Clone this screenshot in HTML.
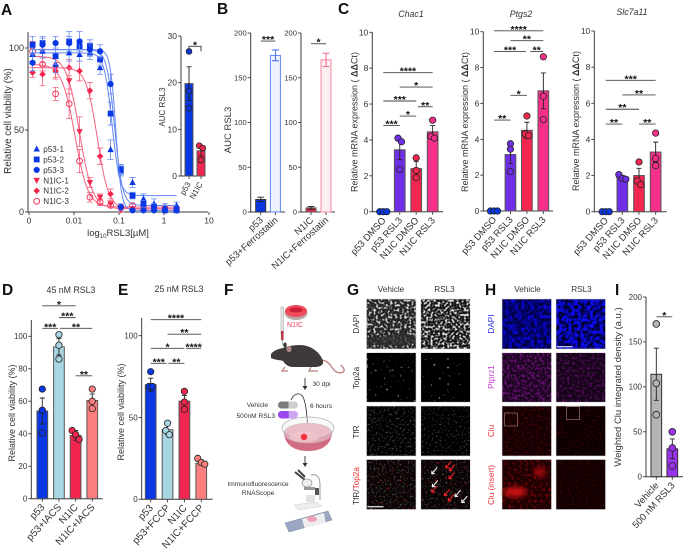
<!DOCTYPE html>
<html lang="en"><head><meta charset="utf-8"><title>RSL3 figure</title>
<style>
html,body{margin:0;padding:0;background:#fff}
svg{display:block;font-family:"Liberation Sans",sans-serif}
text{fill:#333}
.pl{font-size:15.5px;font-weight:bold;fill:#111}
.im{font-size:8.2px;fill:#333}
.fl{font-size:6.6px;fill:#333}
</style></head><body>
<svg id="fig" xmlns="http://www.w3.org/2000/svg" width="683" height="549" viewBox="0 0 683 549">
<defs>
<filter id="f-dapi" x="0" y="0" width="100%" height="100%" color-interpolation-filters="sRGB"><feTurbulence type="fractalNoise" baseFrequency="0.42" numOctaves="1" seed="3"/><feColorMatrix values="0 0 0 0 .85 0 0 0 0 .85 0 0 0 0 .85 4.500 0 0 0 -2.15"/><feGaussianBlur stdDeviation=".35"/></filter>
<filter id="f-dapi2" x="0" y="0" width="100%" height="100%" color-interpolation-filters="sRGB"><feTurbulence type="fractalNoise" baseFrequency="0.42" numOctaves="1" seed="11"/><feColorMatrix values="0 0 0 0 .9 0 0 0 0 .9 0 0 0 0 .9 4.500 0 0 0 -2.05"/><feGaussianBlur stdDeviation=".35"/></filter>
<filter id="f-top" x="0" y="0" width="100%" height="100%" color-interpolation-filters="sRGB"><feTurbulence type="fractalNoise" baseFrequency="0.36" numOctaves="1" seed="7"/><feColorMatrix values="0 0 0 0 .6 0 0 0 0 .6 0 0 0 0 .6 7 0 0 0 -4.6"/><feGaussianBlur stdDeviation=".35"/></filter>
<filter id="f-top2" x="0" y="0" width="100%" height="100%" color-interpolation-filters="sRGB"><feTurbulence type="fractalNoise" baseFrequency="0.36" numOctaves="1" seed="21"/><feColorMatrix values="0 0 0 0 .55 0 0 0 0 .55 0 0 0 0 .55 7 0 0 0 -4.7"/><feGaussianBlur stdDeviation=".35"/></filter>
<filter id="f-tfr" x="0" y="0" width="100%" height="100%" color-interpolation-filters="sRGB"><feTurbulence type="fractalNoise" baseFrequency="0.5" numOctaves="1" seed="5"/><feColorMatrix values="0 0 0 0 .42 0 0 0 0 .42 0 0 0 0 .42 2.400 0 0 0 -1.25"/><feGaussianBlur stdDeviation=".3"/></filter>
<filter id="f-tfr2" x="0" y="0" width="100%" height="100%" color-interpolation-filters="sRGB"><feTurbulence type="fractalNoise" baseFrequency="0.5" numOctaves="1" seed="15"/><feColorMatrix values="0 0 0 0 .38 0 0 0 0 .38 0 0 0 0 .38 2.400 0 0 0 -1.3"/><feGaussianBlur stdDeviation=".3"/></filter>
<filter id="f-ovr" x="0" y="0" width="100%" height="100%" color-interpolation-filters="sRGB"><feTurbulence type="fractalNoise" baseFrequency="0.4" numOctaves="1" seed="9"/><feColorMatrix values="0 0 0 0 .6 0 0 0 0 .08 0 0 0 0 .12 6 0 0 0 -3.9"/><feGaussianBlur stdDeviation=".35"/></filter>
<filter id="f-blue" x="0" y="0" width="100%" height="100%" color-interpolation-filters="sRGB"><feTurbulence type="fractalNoise" baseFrequency="0.32" numOctaves="1" seed="4"/><feColorMatrix values="0 0 0 0 .03 0 0 0 0 .03 0 0 0 0 .85 4 0 0 0 -1.6"/><feGaussianBlur stdDeviation=".4"/></filter>
<filter id="f-blue2" x="0" y="0" width="100%" height="100%" color-interpolation-filters="sRGB"><feTurbulence type="fractalNoise" baseFrequency="0.32" numOctaves="1" seed="14"/><feColorMatrix values="0 0 0 0 .05 0 0 0 0 .05 0 0 0 0 1 5 0 0 0 -2"/><feGaussianBlur stdDeviation=".4"/></filter>
<filter id="f-mag" x="0" y="0" width="100%" height="100%" color-interpolation-filters="sRGB"><feTurbulence type="fractalNoise" baseFrequency="0.4" numOctaves="1" seed="6"/><feColorMatrix values="0 0 0 0 .5 0 0 0 0 .08 0 0 0 0 .55 2.600 0 0 0 -1.1"/><feGaussianBlur stdDeviation=".35"/></filter>
<filter id="f-mag2" x="0" y="0" width="100%" height="100%" color-interpolation-filters="sRGB"><feTurbulence type="fractalNoise" baseFrequency="0.4" numOctaves="1" seed="16"/><feColorMatrix values="0 0 0 0 .4 0 0 0 0 .06 0 0 0 0 .45 2.600 0 0 0 -1.2"/><feGaussianBlur stdDeviation=".35"/></filter>
<filter id="f-red" x="0" y="0" width="100%" height="100%" color-interpolation-filters="sRGB"><feTurbulence type="fractalNoise" baseFrequency="0.5" numOctaves="1" seed="8"/><feColorMatrix values="0 0 0 0 .5 0 0 0 0 .03 0 0 0 0 .05 2.400 0 0 0 -1.25"/><feGaussianBlur stdDeviation=".3"/></filter>
<filter id="f-red2" x="0" y="0" width="100%" height="100%" color-interpolation-filters="sRGB"><feTurbulence type="fractalNoise" baseFrequency="0.5" numOctaves="1" seed="18"/><feColorMatrix values="0 0 0 0 .42 0 0 0 0 .02 0 0 0 0 .04 2.400 0 0 0 -1.32"/><feGaussianBlur stdDeviation=".3"/></filter>
<filter id="f-red3" x="0" y="0" width="100%" height="100%" color-interpolation-filters="sRGB"><feTurbulence type="fractalNoise" baseFrequency="0.35" numOctaves="1" seed="28"/><feColorMatrix values="0 0 0 0 .6 0 0 0 0 .03 0 0 0 0 .05 2.600 0 0 0 -1.3"/><feGaussianBlur stdDeviation=".35"/></filter>
<filter id="blur3" x="-50%" y="-50%" width="200%" height="200%"><feGaussianBlur stdDeviation="3"/></filter>
</defs>

<!-- panel letters -->
<text class="pl" x="1" y="15">A</text>
<text class="pl" x="217" y="14">B</text>
<text class="pl" x="338" y="14">C</text>
<text class="pl" x="2" y="295">D</text>
<text class="pl" x="118" y="295">E</text>
<text class="pl" x="224" y="295">F</text>
<text class="pl" x="347" y="295">G</text>
<text class="pl" x="485" y="295">H</text>
<text class="pl" x="615" y="295">I</text>

<!-- axis titles -->
<text font-size="9.8" text-anchor="middle" transform="translate(11,121) rotate(-90)">Relative cell viability (%)</text>
<text font-size="9.5" text-anchor="middle" x="118" y="236">log<tspan font-size="6" dy="2">10</tspan><tspan dy="-2">RSL3[µM]</tspan></text>
<text font-size="8" text-anchor="middle" transform="translate(165,107) rotate(-90)">AUC RSL3</text>
<text font-size="9.5" text-anchor="middle" transform="translate(231,130) rotate(-90)">AUC RSL3</text>
<text font-size="8.8" font-style="italic" text-anchor="middle" x="411" y="17">Chac1</text>
<text font-size="8.8" font-style="italic" text-anchor="middle" x="521" y="17">Ptgs2</text>
<text font-size="8.8" font-style="italic" text-anchor="middle" x="632" y="15">Slc7a11</text>
<text font-size="9" text-anchor="middle" transform="translate(357.500,122) rotate(-90)">Relative mRNA expression ( <tspan font-weight="bold">ΔΔ</tspan>Ct)</text>
<text font-size="9" text-anchor="middle" transform="translate(468,122) rotate(-90)">Relative mRNA expression ( <tspan font-weight="bold">ΔΔ</tspan>Ct)</text>
<text font-size="9" text-anchor="middle" transform="translate(579,121) rotate(-90)">Relative mRNA expression ( <tspan font-weight="bold">ΔΔ</tspan>Ct)</text>
<text font-size="8.8" text-anchor="middle" x="71" y="293">45 nM RSL3</text>
<text font-size="8.8" text-anchor="middle" x="179" y="292">25 nM RSL3</text>
<text font-size="9" text-anchor="middle" transform="translate(15,413) rotate(-90)">Relative cell viability (%)</text>
<text font-size="9" text-anchor="middle" transform="translate(124,412) rotate(-90)">Relative cell viability (%)</text>
<text font-size="9.500" text-anchor="middle" transform="translate(621,387) rotate(-90)">Weighted Clu integrated density (a.u.)</text>

<!-- panel F illustration -->
<g>
  <g>
    <ellipse cx="296" cy="313" rx="11.500" ry="7" fill="#b9a7a7"/>
    <ellipse cx="296" cy="311" rx="11" ry="6" fill="#f04a5a"/>
    <ellipse cx="296" cy="310" rx="7" ry="2.500" fill="#c81e36"/>
  </g>
  <text class="fl" x="295" y="327" text-anchor="middle" style="fill:#ee3a52;font-size:7px">N1IC</text>
  <g>
    <rect x="281" y="307" width="2.500" height="27" fill="#e9e6e6" stroke="#999" stroke-width=".5"/>
    <rect x="281" y="331" width="2.500" height="9" fill="#b8374a"/>
    <line x1="282.300" y1="340" x2="282.300" y2="345" stroke="#777" stroke-width=".6"/>
  </g>
  <g>
    <path d="M321 361c9 2 9 8 13 11 4 3 8 2 9 0 1-3-2-4-3-6" fill="none" stroke="#b77d7b" stroke-width="1.300" transform="translate(1,-1)"/>
    <path d="M271 354c3-4 8-5 12-6 8-3 18-4 24-2 9 3 14 9 16 15 1 4-3 6-8 6l-22 0c-5 0-8-3-10-6-3-1-8-1-12-3z" fill="#3e3a3a"/>
    <ellipse cx="289" cy="349" rx="2.600" ry="3.200" fill="#ad8585"/>
    <ellipse cx="285" cy="345" rx="1.800" ry="2.500" fill="#3e3a3a"/>
    <path d="M285 367l-3 4h6M311 367l-2 4h9" fill="none" stroke="#b77d7b" stroke-width="1.200"/>
  </g>
  <g><line x1="305" y1="378" x2="305" y2="387" stroke="#444" stroke-width="1"/><path d="M302.500 386l2.500 4 2.500-4z" fill="#333"/></g>
  <text class="fl" x="312.500" y="386">30 dpi</text>
  <text class="fl" x="268" y="407" text-anchor="end">Vehicle</text>
  <text class="fl" x="275" y="418" text-anchor="end">500nM RSL3</text>
  <g><rect x="278" y="401.500" width="20" height="7" rx="3.500" fill="#cfcfcf"/><path d="M281.500 401.500h7v7h-7a3.500 3.500 0 0 1 0-7z" fill="#7b7b7b"/></g>
  <g><rect x="278" y="411" width="20" height="7.500" rx="3.700" fill="#cba6f5"/><path d="M281.700 411h7v7.500h-7a3.700 3.700 0 0 1 0-7.500z" fill="#9a47ee"/></g>
  <path d="M291 400c3-7 9-8 12-3 3 6 4 18 4.500 28" fill="none" stroke="#222" stroke-width=".8"/>
  <path d="M305.500 425l2 4 2-4z" fill="#222"/>
  <text class="fl" x="310" y="408">6 hours</text>
  <g>
    <path d="M284 433c1 12 10 18 24 18s23-6 24-18z" fill="#d26b84"/>
    <ellipse cx="308" cy="433" rx="24" ry="10" fill="#e8a3b4" stroke="#bbb" stroke-width=".6"/>
    <ellipse cx="308" cy="428" rx="26" ry="11" fill="#eeeeee" fill-opacity=".35" stroke="#aaa" stroke-width=".7"/>
    <ellipse cx="304" cy="437" rx="15" ry="5" fill="#f0c4ca" opacity=".8"/>
    <circle cx="304" cy="437" r="3.200" fill="#f2303f"/>
  </g>
  <g><line x1="305" y1="456" x2="305" y2="464" stroke="#444" stroke-width="1"/><path d="M302.500 463l2.500 4 2.500-4z" fill="#333"/></g>
  <text class="fl" x="258" y="486" text-anchor="middle">Immunofluorescence</text>
  <text class="fl" x="258" y="495" text-anchor="middle">RNAScope</text>
  <g>
    <path d="M295 472l10 8M298 470l7 7" stroke="#444" stroke-width="2" fill="none"/>
    <ellipse cx="307" cy="483" rx="5" ry="4" fill="#eee" stroke="#777" stroke-width=".6"/>
    <path d="M311 475c7-2 9 4 9 10v15" fill="none" stroke="#999" stroke-width="1"/>
    <rect x="304" y="487" width="11" height="3" fill="#999"/>
    <rect x="315" y="488" width="4" height="7" fill="#555"/>
    <path d="M294 505l22-3 6 4-24 4z" fill="#eeeeee" stroke="#ccc" stroke-width=".5"/>
    <rect x="306" y="495" width="9" height="7" fill="#e2e2e2"/>
  </g>
  <g>
    <path d="M285 523l43-12 4 9-43 12z" fill="#9aa7c2" stroke="#7c88a3" stroke-width=".5"/>
    <path d="M302 519l22-6 1.500 9-21 6z" fill="#eee"/>
    <ellipse cx="312" cy="519" rx="5" ry="3" fill="#eda0b6"/>
  </g>
</g>

<!-- panel G micrographs -->
<g id="panel-g">
  <text class="im" x="391" y="292" text-anchor="middle">Vehicle</text>
  <text class="im" x="444.500" y="292" text-anchor="middle">RSL3</text>
  <text class="im" text-anchor="middle" transform="translate(359,324) rotate(-90)">DAPI</text>
  <text class="im" text-anchor="middle" transform="translate(359,378) rotate(-90)">Top2a</text>
  <text class="im" text-anchor="middle" transform="translate(359,432) rotate(-90)">TfR</text>
  <text class="im" text-anchor="middle" transform="translate(359,486) rotate(-90)">TfR/<tspan style="fill:#ee2a2a">Top2a</tspan></text>

  <g><rect x="366.500" y="299" width="49.500" height="50" fill="#222"/><rect x="366.500" y="299" width="49.500" height="50" filter="url(#f-dapi)"/><path d="M367 340c14-6 24-2 34-8l15 4v6l-20 4-29-1z" fill="#2c2c2c" opacity=".75"/></g>
  <g><rect x="420.800" y="299" width="49.500" height="50" fill="#141414"/><rect x="420.800" y="299" width="49.500" height="50" filter="url(#f-dapi2)"/></g>
  <g><rect x="366.500" y="352.700" width="49.500" height="49.500" fill="#000"/><rect x="366.500" y="352.700" width="49.500" height="49.500" filter="url(#f-top)"/></g>
  <g><rect x="420.800" y="352.700" width="49.500" height="49.500" fill="#000"/><rect x="420.800" y="352.700" width="49.500" height="49.500" filter="url(#f-top2)"/></g>
  <g><rect x="366.500" y="406" width="49.500" height="50" fill="#000"/><rect x="366.500" y="406" width="49.500" height="50" filter="url(#f-tfr)"/></g>
  <g><rect x="420.800" y="406" width="49.500" height="50" fill="#000"/><rect x="420.800" y="406" width="49.500" height="50" filter="url(#f-tfr2)"/></g>
  <g><rect x="366.500" y="459.500" width="49.500" height="50" fill="#0a0304"/><rect x="366.500" y="459.500" width="49.500" height="50" filter="url(#f-tfr)"/><rect x="366.500" y="459.500" width="49.500" height="50" filter="url(#f-ovr)"/><line x1="367.500" y1="506.700" x2="383.500" y2="506.700" stroke="#ddd" stroke-width="1.300"/></g>
  <g><rect x="420.800" y="459.500" width="49.500" height="50" fill="#0a0304"/><rect x="420.800" y="459.500" width="49.500" height="50" filter="url(#f-tfr2)"/><rect x="420.800" y="459.500" width="49.500" height="50" filter="url(#f-ovr)"/></g>
  <g id="g-arrows"></g>
  <g fill="none" stroke="#d8d8d8" stroke-width=".6">
    <rect x="366.500" y="299" width="49.500" height="50"/><rect x="420.800" y="299" width="49.500" height="50"/>
    <rect x="366.500" y="352.700" width="49.500" height="49.500"/><rect x="420.800" y="352.700" width="49.500" height="49.500"/>
    <rect x="366.500" y="406" width="49.500" height="50"/><rect x="420.800" y="406" width="49.500" height="50"/>
    <rect x="366.500" y="459.500" width="49.500" height="50"/><rect x="420.800" y="459.500" width="49.500" height="50"/>
  </g>
</g>

<!-- panel H micrographs -->
<g id="panel-h">
  <text class="im" x="527.500" y="292" text-anchor="middle">Vehicle</text>
  <text class="im" x="581.500" y="292" text-anchor="middle">RSL3</text>
  <text class="im" text-anchor="middle" transform="translate(494,324) rotate(-90)" style="fill:#2a2ae8">DAPI</text>
  <text class="im" text-anchor="middle" transform="translate(494,377) rotate(-90)" style="fill:#c43bd0">Ptprz1</text>
  <text class="im" text-anchor="middle" transform="translate(494,431) rotate(-90)" style="fill:#e8323c">Clu</text>
  <text class="im" text-anchor="middle" transform="translate(494,485) rotate(-90)" style="fill:#e8323c">Clu (insert)</text>

  <g><rect x="502" y="299" width="49.500" height="50" fill="#00003a"/><rect x="502" y="299" width="49.500" height="50" filter="url(#f-blue)"/></g>
  <g><rect x="556" y="299" width="49.500" height="50" fill="#000024"/><rect x="556" y="299" width="49.500" height="50" filter="url(#f-blue2)"/><line x1="557" y1="346.700" x2="572.500" y2="346.700" stroke="#c8c8ff" stroke-width="1.300"/></g>
  <g><rect x="502" y="352.700" width="49.500" height="49.500" fill="#1a051e"/><rect x="502" y="352.700" width="49.500" height="49.500" filter="url(#f-mag)"/></g>
  <g><rect x="556" y="352.700" width="49.500" height="49.500" fill="#160418"/><rect x="556" y="352.700" width="49.500" height="49.500" filter="url(#f-mag2)"/></g>
  <g><rect x="502" y="406" width="49.500" height="50" fill="#140002"/><rect x="502" y="406" width="49.500" height="50" filter="url(#f-red)"/><rect x="504.500" y="413" width="13" height="13" fill="none" stroke="#a88" stroke-width=".6"/></g>
  <g><rect x="556" y="406" width="49.500" height="50" fill="#0c0001"/><rect x="556" y="406" width="49.500" height="50" filter="url(#f-red2)"/><rect x="566.700" y="406.700" width="13" height="12.700" fill="none" stroke="#a88" stroke-width=".6"/></g>
  <g><rect x="502" y="459.500" width="49.500" height="50" fill="#1c0002"/><rect x="502" y="459.500" width="49.500" height="50" filter="url(#f-red3)"/><ellipse cx="515" cy="492" rx="12" ry="5" fill="#f01515" opacity=".85" filter="url(#blur3)"/><ellipse cx="540" cy="472" rx="6" ry="5" fill="#d81010" opacity=".7" filter="url(#blur3)"/></g>
  <g><rect x="556" y="459.500" width="49.500" height="50" fill="#120001"/><rect x="556" y="459.500" width="49.500" height="50" filter="url(#f-red2)"/></g>
  <g fill="none" stroke="#d8d8d8" stroke-width=".6">
    <rect x="502" y="299" width="49.500" height="50"/><rect x="556" y="299" width="49.500" height="50"/>
    <rect x="502" y="352.700" width="49.500" height="49.500"/><rect x="556" y="352.700" width="49.500" height="49.500"/>
    <rect x="502" y="406" width="49.500" height="50"/><rect x="556" y="406" width="49.500" height="50"/>
    <rect x="502" y="459.500" width="49.500" height="50"/><rect x="556" y="459.500" width="49.500" height="50"/>
  </g>
</g>
</svg>

<script>
/* ---------- Panel A data ---------- */
const doseValues = [0.0012,0.002,0.0039,0.0078,0.0133,0.0226,0.038,0.065,0.11,0.2,0.35,0.6,1.05,1.9];
const doseTickLabels = ['0','0.01','0.1','1','10'];
const doseTickValues = [0.001,0.01,0.1,1,10];
const viabilityTicks = [0,50,100];
const legendNames = ['p53-1','p53-2','p53-3','N1IC-1','N1IC-2','N1IC-3'];
const p53_1 = [96,98,90,97,96,97,88,38,25,18,8,5,3,4];
const p53_2 = [102,103,95,104,101,101,93,60,26,10,5,3,1,1];
const p53_3 = [91,102,103,103,104,99,98,78,3,1,1,1,1,1];
const n1ic_1 = [100,98,88,80,49,18,9,5,1,2,2,2,2,2];
const n1ic_2 = [85,84,86,88,86,74,34,11,3,2,2,2,2,1];
const n1ic_3 = [98,90,72,66,31,9,6,4,3,4,2,2,2,2];
const p53_1_err = [4,4,5,5,4,4,4,6,3,3,3,3,2,2];
const p53_2_err = [5,4,5,6,4,4,4,7,3,2,2,2,1,1];
const p53_3_err = [5,4,4,4,6,4,4,6,2,1,1,1,1,1];
const n1ic_1_err = [4,4,6,8,9,3,2,2,1,1,1,1,1,1];
const n1ic_2_err = [3,7,5,5,6,5,5,3,1,1,1,1,1,1];
const n1ic_3_err = [3,4,4,9,7,3,2,1,1,1,1,1,1,1];
const fitTop = [97,99,99,95,88,90];
const fitBottom = [10,4,1,2,2,3];
const fitEc50 = [0.07,0.08,0.085,0.0133,0.033,0.0105];
const fitHill = [5,5,7,3,3.5,3];

/* ---------- Panel A inset ---------- */
const insetCats = ['p53','N1IC'];
const insetMeans = [19.8,5.4];
const insetErrs = [3.6,1.1];
const insetPoints = [[26.7,18.2,14.5],[6.5,6,3.4]];
const insetTicks = [0,10,20,30];
const insetSig = [[0,1,'*',27.8]];

/* ---------- Panel B ---------- */
const bLeftCats = ['p53','p53+Ferrostatin'];
const bLeftMeans = [14,175];
const bLeftErrs = [2.5,6];
const bRightCats = ['N1IC','N1IC+Ferrostatin'];
const bRightMeans = [4.5,170];
const bRightErrs = [1.5,7.5];
const bTicks = [0,50,100,150,200];
const bLeftSig = [[0,1,'***',191]];
const bRightSig = [[0,1,'*',188]];

/* ---------- Panel C ---------- */
const cCats = ['p53 DMSO','p53 RSL3','N1IC DMSO','N1IC RSL3'];
const cTicks = [0,2,4,6,8,10];
const chacMeans = [0,3.45,2.4,4.45];
const chacErrs = [0,0.55,0.4,0.35];
const chacPoints = [[0,0,0],[4.1,3.9,2.35],[3.0,2.3,1.9],[5.1,4.2,4.1]];
const chacSig = [[0,3,'****',7.75],[1,3,'*',6.95],[0,2,'***',6.17],[2.1,3,'**',5.85],[1,2,'*',5.33],[0,1,'***',4.8]];
const ptgsMeans = [0,3.15,4.5,6.7];
const ptgsErrs = [0,0.5,0.45,1.0];
const ptgsPoints = [[0,0,0],[3.75,3.45,2.2],[5.3,4.3,4.2],[8.6,6.4,5.1]];
const ptgsSig = [[0,3,'****',10.05],[1,3,'**',9.5],[0,1.95,'***',8.9],[2.2,3,'**',8.9],[1,2,'*',6.45],[0,1,'**',5.07]];
const slcMeans = [0,1.9,2,3.3];
const slcErrs = [0,0.1,0.4,0.55];
const slcPoints = [[0,0,0],[2.05,1.85,1.8],[2.75,1.7,1.5],[4.35,2.95,2.55]];
const slcSig = [[0,3,'***',7.27],[1,3,'**',6.46],[0,2,'**',5.67],[0,1,'**',4.85],[2,3,'**',4.85]];

/* ---------- Panels D / E ---------- */
const dCats = ['p53','p53+IACS','N1IC','N1IC+IACS'];
const dMeans = [54,93.5,39,60.5];
const dErrs = [8,5,3,4];
const dPoints = [[67.5,54.5,40.5],[101,94.5,86],[42,39.5,36.5],[67.5,60,55.5]];
const dTicks = [0,20,40,60,80,100];
const dSig = [[0,2,'*',118.8],[1,2,'***',111.5],[0,0.95,'***',104.9],[1.05,3,'**',104.9],[2,3,'**',75.7]];
const eCats = ['p53','p53+FCCP','N1IC','N1IC+FCCP'];
const eMeans = [70,42.5,60,22];
const eErrs = [4,3,3.5,1];
const ePoints = [[78,69,69],[46.5,42,39.5],[66,59.5,55],[25,22.5,21.5]];
const eTicks = [0,50,100];
const eSig = [[0,3,'****',109.8],[1,3,'**',100.9],[0,2,'*',92.3],[2.1,3,'****',92.3],[0,0.95,'***',83.1],[1.05,2,'**',83.1]];

/* ---------- Panel I ---------- */
const iCats = ['Vehicle','500 nM RSL3'];
const iMeans = [114,31];
const iErrs = [29,11];
const iPoints = [[170,104,69],[50,32,12]];
const iTicks = [0,50,100,150,200];
const iSig = [[0,1,'*',178]];

const BLUE='#0a37e4', RED='#f2264e', PURPLE='#6f2fe6', PINK='#f6308a', LBLUE='#a9d6e3', SALMON='#fb7f7f';

const NS='http://www.w3.org/2000/svg';
const svg=document.getElementById('fig');
function mk(parent,tag,attrs){
  const e=document.createElementNS(NS,tag);
  for(const k in attrs){e.setAttribute(k,attrs[k]);}
  parent.appendChild(e);
  return e;
}

function drawBarPanel(o){
  const g=mk(svg,'g',{});
  
  
  const y=v=>o.y0-v*(o.y0-o.yMaxPx)/o.vMax;
  const x=i=>o.cx0+i*o.dx;
  const axisColor='#3a3a3a';
  const yAxis=mk(g,'line',{x1:o.ax,x2:o.ax,y1:o.axisTop!==undefined?o.axisTop:o.yMaxPx,y2:o.y0+.4,stroke:axisColor,'stroke-width':1});
  
  
  const xAxis=mk(g,'line',{x1:o.ax,x2:o.xEnd,y1:o.y0,y2:o.y0,stroke:axisColor,'stroke-width':1});
  
  
  o.ticks.forEach(t=>{
    mk(g,'line',{x1:o.ax-3,x2:o.ax,y1:y(t),y2:y(t),stroke:axisColor,'stroke-width':.9});
    const tl=mk(g,'text',{x:o.ax-4,y:y(t)+o.tickFs*.35,'text-anchor':'end','font-size':o.tickFs});
    tl.textContent=t;
    
    
  });
  o.cats.forEach((c,i)=>{
    const cx=x(i);
    mk(g,'line',{x1:cx,x2:cx,y1:o.y0,y2:o.y0+3,stroke:axisColor,'stroke-width':.9});
    const lx=cx+(o.labelDx||3), ly=o.y0+(o.labelDy||9);
    const tl=mk(g,'text',{x:lx,y:ly,'text-anchor':'end','font-size':o.labelFs,transform:'rotate(-'+(o.angle||48)+' '+lx+' '+ly+')'});
    tl.textContent=c;
    
    
    if(o.means[i]>0){
      const bar=mk(g,'rect',{x:cx-o.bw/2,y:y(o.means[i]),width:o.bw,height:o.y0-y(o.means[i]),fill:o.fills[i],stroke:(o.strokes&&o.strokes[i])||'#555','stroke-width':o.barStroke||1});
      
      
    }
    const e=o.errs[i];
    if(e>0){
      const ec=(o.errColors&&o.errColors[i])||'#222';
      const cap=o.capW||2.500;
      const eb=mk(g,'path',{d:'M'+(cx-cap)+' '+y(o.means[i]+e)+'H'+(cx+cap)+'M'+cx+' '+y(o.means[i]+e)+'V'+y(o.means[i]-e)+'M'+(cx-cap)+' '+y(o.means[i]-e)+'H'+(cx+cap),stroke:ec,'stroke-width':.9,fill:'none'});
      
      
    }
  });
  if(o.points){
    o.points.forEach((vals,i)=>{
      const sorted=vals.slice().sort((a,b)=>b-a);
      const clusters=[];
      sorted.forEach(v=>{
        const last=clusters[clusters.length-1];
        if(last&&Math.abs(y(last[last.length-1])-y(v))<5){last.push(v);}else{clusters.push([v]);}
      });
      clusters.forEach(cl=>{
        cl.forEach((v,k)=>{
          const off=(k-(cl.length-1)/2)*3.5;
          const pt=mk(g,'circle',{cx:x(i)+off,cy:y(v),r:o.r||3.2,fill:(o.pointFills&&o.pointFills[i])||o.fills[i],stroke:'#222','stroke-width':.8});
          
          
        });
      });
    });
  }
  (o.sig||[]).forEach(s=>{
    const x1=x(s[0]),x2=x(s[1]),yy=y(s[3]);
    const d=o.sigDrop?'M'+x1+' '+(yy+o.sigDrop)+'V'+yy+'H'+x2+'V'+(yy+o.sigDrop):'M'+x1+' '+yy+'H'+x2;
    const line=mk(g,'path',{d:d,stroke:o.sigColor||'#444','stroke-width':.9,fill:'none'});
    
    
    const st=mk(g,'text',{x:(x1+x2)/2,y:yy+2,'text-anchor':'middle','font-size':10.5,'font-weight':'bold',style:'fill:#111'});
    st.textContent=s[2];
    
    
  });
}

/* ---------- Panel A ---------- */
(function(){
  const g=mk(svg,'g',{});
  
  
  const xS=d=>74+45*(Math.log10(d)+2);
  const yS=v=>212-v*1.64;
  const axisColor='#3a3a3a';
  const yAxis=mk(g,'line',{x1:28,x2:28,y1:32,y2:212.4,stroke:axisColor,'stroke-width':1});
  
  
  const xAxis=mk(g,'line',{x1:28,x2:208,y1:212,y2:212,stroke:axisColor,'stroke-width':1});
  
  
  viabilityTicks.forEach(t=>{
    mk(g,'line',{x1:25,x2:28,y1:yS(t),y2:yS(t),stroke:axisColor,'stroke-width':.9});
    const tl=mk(g,'text',{x:24,y:yS(t)+3.2,'text-anchor':'end','font-size':9});
    tl.textContent=t;
    
    
  });
  doseTickValues.forEach((d,i)=>{
    mk(g,'line',{x1:xS(d),x2:xS(d),y1:212,y2:215,stroke:axisColor,'stroke-width':.9});
    const tl=mk(g,'text',{x:xS(d),y:223.5,'text-anchor':'middle','font-size':8.5});
    tl.textContent=doseTickLabels[i];
    
    
  });
  const series=[
    {vals:n1ic_3,errs:n1ic_3_err,c:RED,line:'#f4607f',shape:'open',fit:5,leg:5},
    {vals:n1ic_2,errs:n1ic_2_err,c:RED,line:'#f4607f',shape:'dia',fit:4,leg:4},
    {vals:n1ic_1,errs:n1ic_1_err,c:RED,line:'#f4607f',shape:'tdown',fit:3,leg:3},
    {vals:p53_1,errs:p53_1_err,c:BLUE,line:'#6488f2',shape:'tup',fit:0,leg:0},
    {vals:p53_2,errs:p53_2_err,c:BLUE,line:'#6488f2',shape:'sq',fit:1,leg:1},
    {vals:p53_3,errs:p53_3_err,c:BLUE,line:'#6488f2',shape:'circ',fit:2,leg:2}
  ];
  function marker(parent,shape,x,y,c,r){
    if(shape==='circ'||shape==='open'){return mk(parent,'circle',{cx:x,cy:y,r:r,fill:shape==='open'?'none':c,stroke:c,'stroke-width':shape==='open'?.9:.4});}
    if(shape==='sq'){return mk(parent,'rect',{x:x-r,y:y-r,width:2*r,height:2*r,fill:c});}
    let pts;
    if(shape==='tup'){pts=[[x,y-r-.6],[x+r+.3,y+r-.4],[x-r-.3,y+r-.4]];}
    if(shape==='tdown'){pts=[[x,y+r+.6],[x+r+.3,y-r+.4],[x-r-.3,y-r+.4]];}
    if(shape==='dia'){pts=[[x,y-r-.4],[x+r+.4,y],[x,y+r+.4],[x-r-.4,y]];}
    return mk(parent,'polygon',{points:pts.map(p=>p.join(',')).join(' '),fill:c});
  }
  series.forEach(s=>{
    const f=s.fit;
    let d='';
    for(let i=0;i<=140;i++){
      const lx=Math.log10(doseValues[0])+i/140*(Math.log10(doseValues[doseValues.length-1])-Math.log10(doseValues[0]));
      const dose=Math.pow(10,lx);
      const v=fitBottom[f]+(fitTop[f]-fitBottom[f])/(1+Math.pow(dose/fitEc50[f],fitHill[f]));
      d+=(i?'L':'M')+xS(dose).toFixed(2)+' '+yS(v).toFixed(2);
    }
    const curve=mk(g,'path',{d:d,fill:'none',stroke:s.line,'stroke-width':1});
    
    
    s.vals.forEach((v,i)=>{
      const px=xS(doseValues[i]), e=s.errs[i];
      const eb=mk(g,'path',{d:'M'+(px-3)+' '+yS(v+e)+'H'+(px+3)+'M'+px+' '+yS(v+e)+'V'+yS(v-e)+'M'+(px-3)+' '+yS(v-e)+'H'+(px+3),stroke:s.line,'stroke-width':.8,fill:'none'});
      
      
      const m=marker(g,s.shape,px,yS(v),s.c,2.9);
      
      
    });
  });
  const shapes=['tup','sq','circ','tdown','dia','open'];
  legendNames.forEach((n,i)=>{
    const ly=149+i*10.45;
    const lg=mk(g,'g',{});
    
    
    marker(lg,shapes[i],36.7,ly,i<3?BLUE:RED,2.9);
    const t=mk(lg,'text',{x:43.3,y:ly+2.9,'font-size':8.1});
    t.textContent=n;
  });
})();

drawBarPanel({name:'a-inset',ax:181,xEnd:205.5,y0:176,yMaxPx:36,vMax:30,ticks:insetTicks,tickFs:8.5,cx0:189,dx:12,bw:8,cats:insetCats,means:insetMeans,errs:insetErrs,points:insetPoints,fills:[BLUE,RED],labelFs:8,angle:60,labelDx:2,labelDy:8,sig:insetSig,sigDrop:5,r:2.900,sigColor:'#333'});
drawBarPanel({name:'b-left',ax:250.7,xEnd:285,y0:212,yMaxPx:33,vMax:200,ticks:bTicks,tickFs:7.6,cx0:260.7,dx:14.7,bw:10,cats:bLeftCats,means:bLeftMeans,errs:bLeftErrs,fills:[BLUE,'#eef2fd'],strokes:['#333','#5f84ee'],errColors:['#222','#3a63e8'],labelFs:9.5,angle:42,sig:bLeftSig,capW:3.500});
drawBarPanel({name:'b-right',ax:301,xEnd:335,y0:212,yMaxPx:33,vMax:200,ticks:bTicks,tickFs:7.6,cx0:311,dx:15,bw:10,cats:bRightCats,means:bRightMeans,errs:bRightErrs,fills:[RED,'#fdeef1'],strokes:['#555','#f58aa0'],errColors:['#222','#ef5b7c'],labelFs:9.5,angle:42,sig:bRightSig,capW:3.500});
drawBarPanel({name:'chac1',ax:372.3,xEnd:443,y0:211.7,yMaxPx:32.3,vMax:10,ticks:cTicks,tickFs:8.5,cx0:383.3,dx:16.45,bw:10.7,cats:cCats,means:chacMeans,errs:chacErrs,points:chacPoints,fills:[BLUE,PURPLE,RED,PINK],labelFs:9.5,angle:48,sig:chacSig});
drawBarPanel({name:'ptgs2',ax:483.3,xEnd:553,y0:211,yMaxPx:31.7,vMax:10,ticks:cTicks,tickFs:8.5,cx0:494,dx:16.45,bw:10.7,cats:cCats,means:ptgsMeans,errs:ptgsErrs,points:ptgsPoints,fills:[BLUE,PURPLE,RED,PINK],labelFs:9.5,angle:48,sig:ptgsSig});
drawBarPanel({name:'slc7a11',ax:594.3,xEnd:666.7,y0:211.7,yMaxPx:31,vMax:10,ticks:cTicks,tickFs:8.5,cx0:605.7,dx:16.65,bw:10.7,cats:cCats,means:slcMeans,errs:slcErrs,points:slcPoints,fills:[BLUE,PURPLE,RED,PINK],labelFs:9.5,angle:48,sig:slcSig});
drawBarPanel({name:'d',ax:31.3,xEnd:102.7,y0:498.7,yMaxPx:336.3,vMax:100,axisTop:320,ticks:dTicks,tickFs:8,cx0:42.3,dx:16.65,bw:10.7,cats:dCats,means:dMeans,errs:dErrs,points:dPoints,fills:[BLUE,LBLUE,RED,SALMON],labelFs:10,angle:47,sig:dSig});
drawBarPanel({name:'e',ax:141.7,xEnd:212.7,y0:499.3,yMaxPx:335.7,vMax:100,axisTop:318,ticks:eTicks,tickFs:8,cx0:150.7,dx:16.85,bw:10.7,cats:eCats,means:eMeans,errs:eErrs,points:ePoints,fills:[BLUE,LBLUE,RED,SALMON],labelFs:10,angle:47,sig:eSig});
drawBarPanel({name:'i',ax:646,xEnd:683,y0:476.7,yMaxPx:297,vMax:200,ticks:iTicks,tickFs:8,cx0:656.3,dx:16,bw:10.7,cats:iCats,means:iMeans,errs:iErrs,points:iPoints,fills:['#b4b4b4','#9a34ea'],strokes:['#333','#333'],labelFs:9.5,angle:48,sig:iSig,r:3.4});

/* arrows in the TfR/Top2a RSL3 micrograph */
(function(){
  const host=document.getElementById('g-arrows');
  const whiteTips=[[431.7,474],[432.3,487],[455,496.7],[461.7,502.7]];
  const redTips=[[445.7,468],[449.3,471],[449,479],[431.7,492.3],[444.3,495.7],[448.3,501]];
  function arrow(t,c){
    const a=mk(host,'path',{d:'M'+t[0]+' '+t[1]+'l5.500-6.500M'+t[0]+' '+t[1]+'l3.200-.5M'+t[0]+' '+t[1]+'l.2-3.200',stroke:c,'stroke-width':1.100,fill:'none'});
    
    
  }
  whiteTips.forEach(t=>arrow(t,'#f4f4f4'));
  redTips.forEach(t=>arrow(t,'#f0222a'));
})();
</script>
</body></html>
